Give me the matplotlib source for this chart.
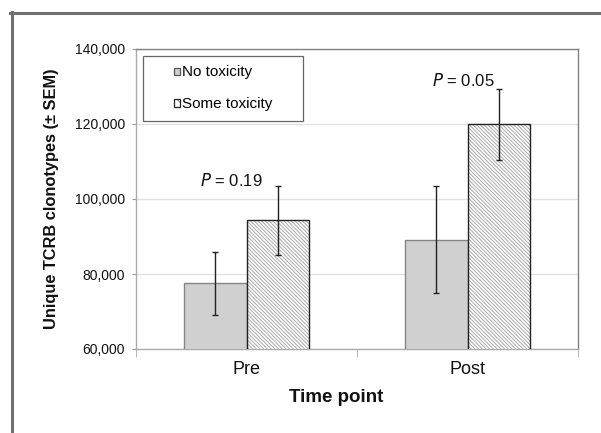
import matplotlib
matplotlib.use("Agg")
import matplotlib.pyplot as plt
import numpy as np
from matplotlib.lines import Line2D
from matplotlib.patches import Rectangle
from matplotlib.legend_handler import HandlerBase
from matplotlib.ticker import FuncFormatter, FixedLocator

plt.rcParams['font.family'] = ['Liberation Sans', 'DejaVu Sans']
plt.rcParams['hatch.linewidth'] = 0.7

categories = ["Pre", "Post"]
series_names = ["No toxicity", "Some toxicity"]
no_tox = [77500, 89100]
no_tox_sem = [8450, 14250]
some_tox = [94300, 119900]
some_tox_sem = [9200, 9500]
p_labels = ["0.19", "0.05"]
p_heights = [105000, 131700]
yticks = [60000, 80000, 100000, 120000, 140000]

p_xoffsets = [-0.07, -0.02]

fig = plt.figure(figsize=(6.01, 4.33), dpi=100)
ax = fig.add_axes([136/601, 1-349/433, 442/601, 300/433])

x = np.arange(len(categories))
w = 0.285
HATCH = '\\' * 9
ax.bar(x - w/2, no_tox, w, color='#d0d0d0', edgecolor='#858585',
       linewidth=1.0, zorder=3)
ax.bar(x + w/2, some_tox, w, color='white', edgecolor='#a8a8a8', hatch=HATCH,
       linewidth=0, zorder=3)
ax.bar(x + w/2, some_tox, w, fill=False, edgecolor='#222222', linewidth=1.0, zorder=3.5)
ax.errorbar(x - w/2, no_tox, yerr=no_tox_sem, fmt='none', ecolor='#222222',
            elinewidth=1.0, capsize=2.5, capthick=1.0, zorder=4)
ax.errorbar(x + w/2, some_tox, yerr=some_tox_sem, fmt='none', ecolor='#222222',
            elinewidth=1.0, capsize=2.5, capthick=1.0, zorder=4)

for xi, off, pl, ph in zip(x, p_xoffsets, p_labels, p_heights):
    ax.text(xi + off, ph, r"$\it{P}$ = " + pl, ha='center', va='center', fontsize=12,
            color='#111111')

ax.set_ylim(60000, 140000)
ax.set_xlim(-0.5, 1.5)
ax.set_yticks(yticks)
ax.yaxis.set_major_formatter(FuncFormatter(lambda v, p: f"{int(v):,}"))
ax.tick_params(axis='y', length=3, color='#999999', labelsize=10, pad=5, labelcolor='#111111')
ax.set_xticks(x)
ax.set_xticklabels(categories)
ax.tick_params(axis='x', which='major', length=0, labelsize=13, pad=9, labelcolor='#111111')
ax.xaxis.set_minor_locator(FixedLocator([-0.5, 0.5, 1.5]))
ax.tick_params(axis='x', which='minor', length=6, color='#aaaaaa')

ax.grid(axis='y', color='#e2e2e2', linewidth=1.0, zorder=0)
ax.set_axisbelow(True)
for s in ['left', 'bottom']:
    ax.spines[s].set_color('#aaaaaa')
for s in ['top', 'right']:
    ax.spines[s].set_color('#808080')
for s in ax.spines.values():
    s.set_linewidth(1.0)

ax.set_xlabel("Time point", fontsize=13.5, fontweight='bold', color='#111111')
ax.xaxis.set_label_coords((336-136)/442, -0.135)
ax.set_ylabel("Unique TCRB clonotypes (\u00b1 SEM)", fontsize=11.8, fontweight='bold',
              color='#111111')
ax.yaxis.set_label_coords(-0.175, 0.5)


class SmallBox(HandlerBase):
    def __init__(self, face, edge, hatch=None, hatch_edge=None):
        super().__init__()
        self.face, self.edge, self.hatch, self.hatch_edge = face, edge, hatch, hatch_edge

    def create_artists(self, legend, orig_handle, xdescent, ydescent, width, height,
                       fontsize, trans):
        bw, bh = 4.6, 5.2
        x0 = -xdescent + width - bw
        y0 = -ydescent + (height - bh) / 2
        arts = []
        if self.hatch:
            r = Rectangle((x0, y0), bw, bh, facecolor=self.face, edgecolor=self.hatch_edge,
                          hatch='\\\\\\', linewidth=0, transform=trans)
            arts.append(r)
            r2 = Rectangle((x0, y0), bw, bh, fill=False, edgecolor=self.edge,
                           linewidth=0.9, transform=trans)
            arts.append(r2)
        else:
            r = Rectangle((x0, y0), bw, bh, facecolor=self.face, edgecolor=self.edge,
                          linewidth=0.9, transform=trans)
            arts.append(r)
        return arts


h1 = Rectangle((0, 0), 1, 1)
h2 = Rectangle((0, 0), 1, 1)
leg = ax.legend([h1, h2], series_names, loc='upper left',
                bbox_to_anchor=(7/442, 1-7/300, 160/442, 0.0), mode='expand',
                frameon=True, fancybox=False, edgecolor='#404040', fontsize=11,
                handlelength=1.8, handletextpad=0.15,
                labelspacing=1.17, borderpad=0.62, borderaxespad=0,
                handler_map={h1: SmallBox('#d0d0d0', '#555555'),
                             h2: SmallBox('white', '#222222', hatch=True, hatch_edge='#888888')})
leg.get_frame().set_linewidth(0.9)

# outer frame (top and left edges)
fig.add_artist(Line2D([10/601, 1.0], [1-12.5/433, 1-12.5/433], color='#707070',
                      linewidth=2.2, transform=fig.transFigure))
fig.add_artist(Line2D([11.5/601, 11.5/601], [0, 1-11.5/433], color='#707070',
                      linewidth=2.2, transform=fig.transFigure))

fig.savefig("out.png", dpi=100, facecolor='white')
